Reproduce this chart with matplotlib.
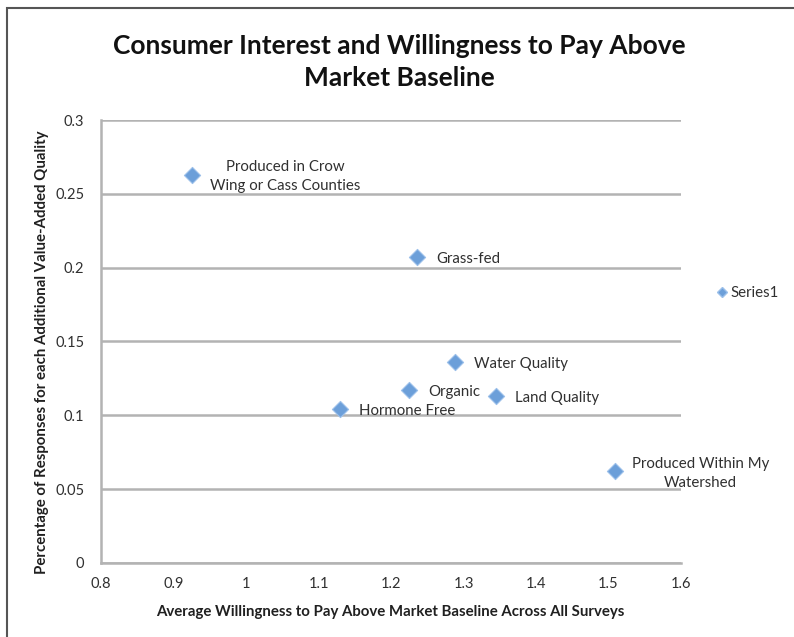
import matplotlib

matplotlib.use("Agg")
import matplotlib.pyplot as plt
from matplotlib.lines import Line2D
from matplotlib.patches import Rectangle

# survey results: willingness to pay vs. share of responses per quality
qualities = [
    "Produced in Crow\nWing or Cass Counties",
    "Grass-fed",
    "Water Quality",
    "Organic",
    "Land Quality",
    "Hormone Free",
    "Produced Within My\nWatershed",
]
willingness = [0.926, 1.236, 1.288, 1.225, 1.345, 1.130, 1.509]
response_share = [0.263, 0.207, 0.136, 0.117, 0.113, 0.104, 0.062]

x_ticks = [0.8, 0.9, 1.0, 1.1, 1.2, 1.3, 1.4, 1.5, 1.6]
x_tick_labels = ["0.8", "0.9", "1", "1.1", "1.2", "1.3", "1.4", "1.5", "1.6"]
y_ticks = [0, 0.05, 0.1, 0.15, 0.2, 0.25, 0.3]
y_tick_labels = ["0", "0.05", "0.1", "0.15", "0.2", "0.25", "0.3"]

FONT = ["Lato", "DejaVu Sans"]
plt.rcParams["font.family"] = FONT
GRID = "#b3b3b3"
MARKER_FACE = "#6c9fd9"
MARKER_EDGE = "#9cc0ea"
TEXT = "#303030"

fig = plt.figure(figsize=(7.94, 6.37), dpi=100)
ax = fig.add_axes([0.1272, 0.1162, 0.7305, 0.6954])

ax.scatter(willingness, response_share, marker="D", s=68,
           color=MARKER_FACE, edgecolor=MARKER_EDGE, linewidth=0.8, zorder=3)

# labels to the right of each point; two-line labels are centred
for name, x, y in zip(qualities, willingness, response_share):
    if "\n" in name:
        dx = 67 if name.startswith("Produced in") else 61.5
        ax.annotate(name, (x, y), xytext=(dx, -1.5), textcoords="offset points",
                    ha="center", va="center", fontsize=10.8, color=TEXT,
                    linespacing=1.5, zorder=4)
    else:
        ax.annotate(name, (x, y), xytext=(13.5, -1), textcoords="offset points",
                    ha="left", va="center", fontsize=10.8, color=TEXT, zorder=4)

ax.set_xlim(0.8, 1.6)
ax.set_ylim(0, 0.3)
ax.set_xticks(x_ticks, x_tick_labels)
ax.set_yticks(y_ticks, y_tick_labels)
ax.tick_params(length=0, labelsize=10.5, labelcolor=TEXT)
ax.tick_params(axis="y", pad=12)
ax.tick_params(axis="x", pad=10)

ax.yaxis.grid(True, color=GRID, linewidth=1.8)
ax.set_axisbelow(True)
for side in ("top", "right"):
    ax.spines[side].set_visible(False)
for side in ("left", "bottom"):
    ax.spines[side].set_color(GRID)
    ax.spines[side].set_linewidth(1.8)

fig.text(390 / 794, 1 - 612 / 637,
         "Average Willingness to Pay Above Market Baseline Across All Surveys",
         ha="center", va="center", fontsize=10.8, fontweight="bold", color="#202020")
fig.text(42 / 794, 1 - 352 / 637,
         "Percentage of Responses for each Additional Value-Added Quality",
         ha="center", va="center", rotation=90, fontsize=10.8,
         fontweight="bold", color="#202020")

fig.text(399 / 794, 1 - 62 / 637, "Consumer Interest and Willingness to Pay Above\nMarket Baseline",
         ha="center", va="center", fontsize=19, fontweight="bold",
         color="#111111", linespacing=1.4)

handle = Line2D([], [], marker="D", linestyle="none", markersize=5,
                markerfacecolor=MARKER_FACE, markeredgecolor=MARKER_EDGE)
fig.legend([handle], ["Series1"], loc="center left",
           bbox_to_anchor=(702 / 794, 1 - 293 / 637), frameon=False,
           fontsize=10.8, handlelength=0.8, handletextpad=0.2, labelcolor=TEXT)

# chart frame
fig.patches.append(Rectangle((7 / 794, -0.1), 1.2, 1.1 - 8 / 637,
                             transform=fig.transFigure, fill=False,
                             edgecolor="#555555", linewidth=1.5))

fig.savefig("out.png", dpi=100)
